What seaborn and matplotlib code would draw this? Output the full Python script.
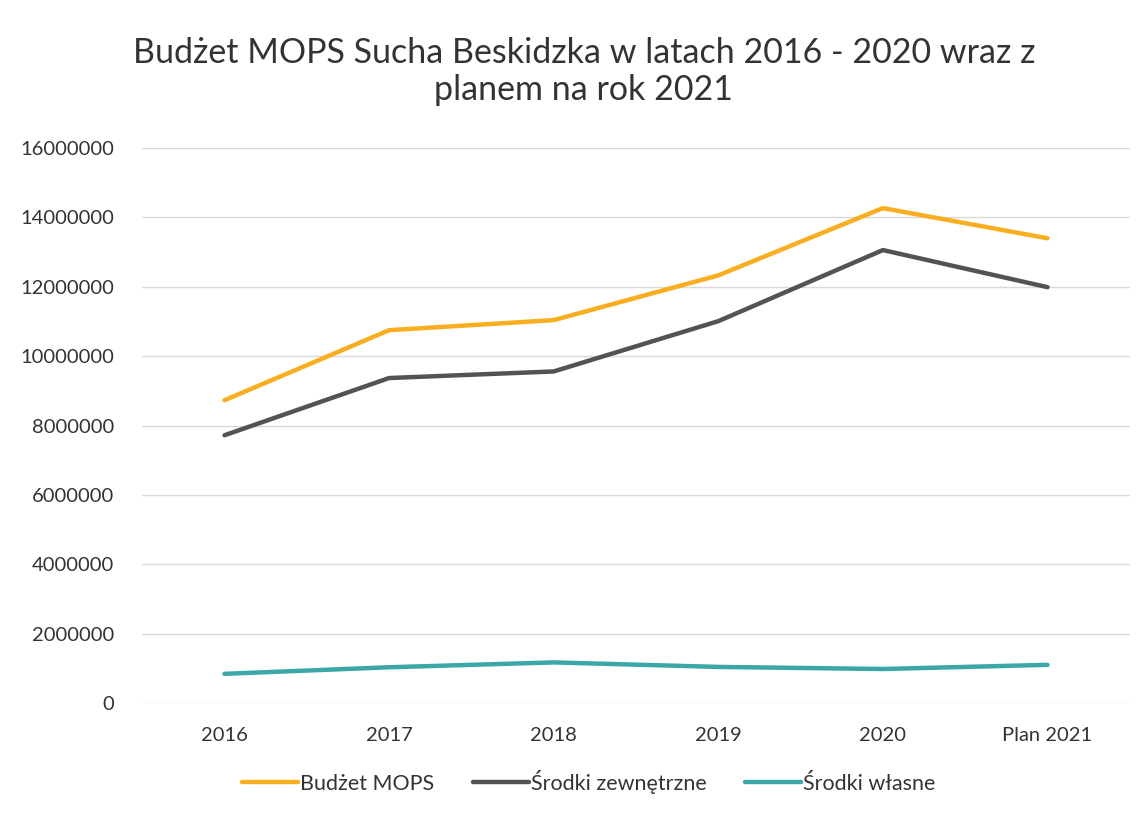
import pandas as pd
import seaborn as sns
import matplotlib.pyplot as plt
from matplotlib.ticker import StrMethodFormatter

# ───────────────────────
# Data
# ───────────────────────
years = ["2016", "2017", "2018", "2019", "2020", "Plan 2021"]
budzet_mops = [8730000, 10750000, 11040000, 12330000, 14270000, 13400000]
srodki_zewnetrzne = [7720000, 9370000, 9560000, 11010000, 13060000, 11990000]
srodki_wlasne = [840000, 1030000, 1170000, 1040000, 980000, 1100000]

series_names = ["Budżet MOPS", "Środki zewnętrzne", "Środki własne"]
colors = ["#F8AE1E", "#535353", "#3BA7A9"]

df = pd.DataFrame({
    "rok": years * 3,
    "wartosc": budzet_mops + srodki_zewnetrzne + srodki_wlasne,
    "seria": [s for s in series_names for _ in years],
})

# ───────────────────────
# Style
# ───────────────────────
sns.set_theme(style="white")
plt.rcParams["font.family"] = ["Lato", "DejaVu Sans"]
text_color = "#333333"

fig = plt.figure(figsize=(11.47, 8.16), dpi=100)
ax = fig.add_axes([0.124, 0.1385, 0.861, 0.680])

sns.lineplot(
    data=df, x="rok", y="wartosc", hue="seria",
    palette=colors, linewidth=3.2, sort=False, ax=ax,
)

ax.set_xlim(-0.5, len(years) - 0.5)
ax.set_ylim(0, 16000000)
ax.set_yticks(range(0, 16000001, 2000000))
ax.yaxis.set_major_formatter(StrMethodFormatter("{x:.0f}"))
ax.grid(axis="y", color="#D9D9D9", linewidth=1)
ax.set_axisbelow(True)
for sp in ax.spines.values():
    sp.set_visible(False)
ax.tick_params(axis="both", labelsize=14.5, colors=text_color, length=0)
ax.tick_params(axis="y", pad=20)
ax.tick_params(axis="x", pad=17)
ax.set_xlabel("")
ax.set_ylabel("")

fig.suptitle("Budżet MOPS Sucha Beskidzka w latach 2016 - 2020 wraz z\nplanem na rok 2021",
             x=0.509, y=0.955, fontsize=24.5, color=text_color, linespacing=1.2)

ax.legend(
    loc="upper center", bbox_to_anchor=(0.452, -0.085), ncol=3, frameon=False,
    fontsize=15.5, handlelength=2.6, handletextpad=0.1, columnspacing=1.8,
    labelcolor=text_color,
)

fig.savefig("out.png", dpi=100, facecolor="white")
